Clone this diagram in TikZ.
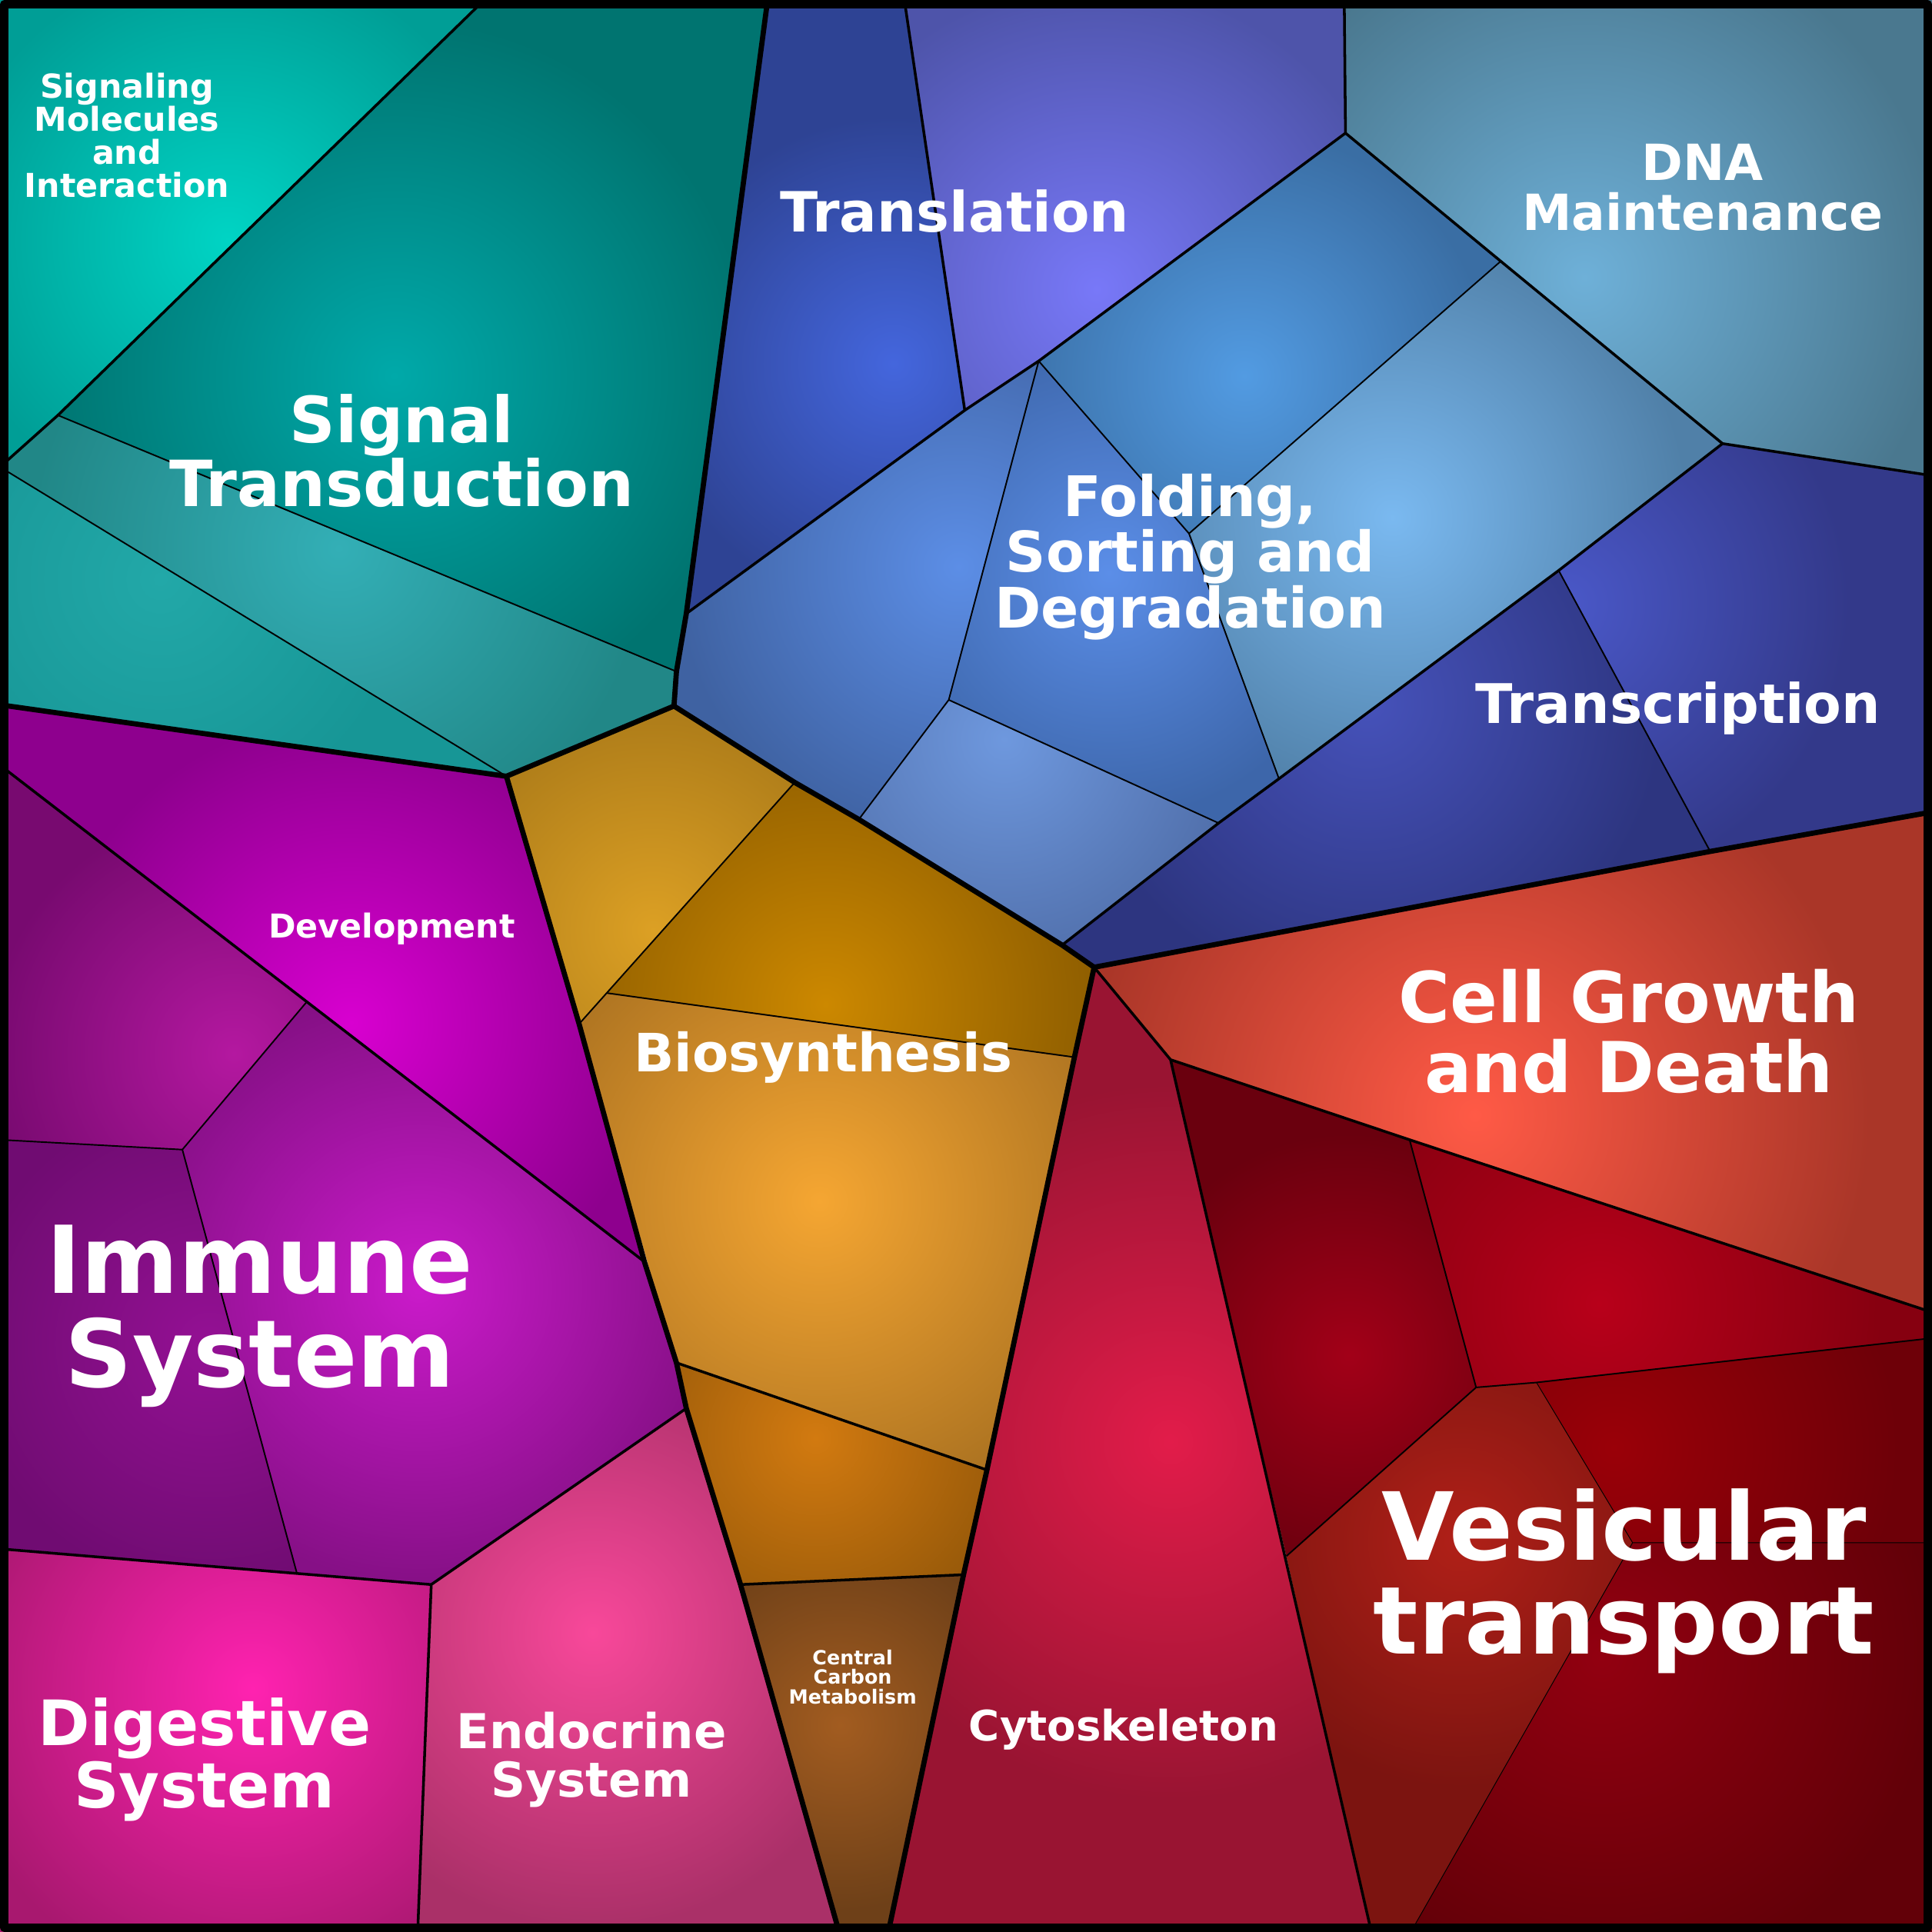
\documentclass[tikz,border=0pt]{standalone}
\usepackage{fontspec}
\setmainfont{DejaVu Sans}
\usepackage{tikz}

% one voronoi cell: path, glow centre, glow radius, inner and outer colour (HTML)
\newcommand\vcell[5]{%
  \definecolor{cellin}{HTML}{#4}\definecolor{cellout}{HTML}{#5}%
  \begin{scope}
    \clip #1 -- cycle;
    \fill[cellout] (0,0) rectangle (1568,1568);
    \shade[inner color=cellin, outer color=cellout] (#2) circle (#3);
  \end{scope}}
\newcommand\fz[1]{\bfseries\fontsize{#1}{#1}\selectfont}

\begin{document}
\begin{tikzpicture}[
  x=0.01cm, y=-0.01cm, line join=round,
  grp/.style={line width=0.042cm},
  sub/.style={line width=0.022cm},
  leaf/.style={line width=0.012cm},
  hair/.style={line width=0.006cm},
  lbl/.style={text=white, align=center, inner sep=0pt}
]
  \useasboundingbox (0,0) rectangle (1568,1568);

  % vertices
  \coordinate (t1) at (393,0);   \coordinate (t2) at (47,337);
  \coordinate (t3) at (0,379);   \coordinate (t4) at (549,545);
  \coordinate (g1) at (623,0);   \coordinate (g2) at (547,573);
  \coordinate (g3) at (411,630); \coordinate (g4) at (0,572);
  \coordinate (g5) at (888,785); \coordinate (g6) at (1568,659);
  \coordinate (g7) at (681,1568); \coordinate (g8) at (721,1568);
  \coordinate (b1) at (734,0);   \coordinate (b2) at (783,333);
  \coordinate (b3) at (557,498); \coordinate (b4) at (843,293);
  \coordinate (b5) at (1092,108); \coordinate (b6) at (1091,0);
  \coordinate (b7) at (1218,212); \coordinate (b8) at (1398,360);
  \coordinate (b9) at (1568,386); \coordinate (b10) at (965,433);
  \coordinate (b11) at (770,568); \coordinate (b12) at (697,665);
  \coordinate (b13) at (989,668); \coordinate (b14) at (1038,632);
  \coordinate (b15) at (1265,463); \coordinate (b16) at (1388,691);
  \coordinate (b17) at (862,767);
  \coordinate (m1) at (645,635); \coordinate (m2) at (470,831);
  \coordinate (m3) at (493,806); \coordinate (m4) at (872,858);
  \coordinate (m5) at (549,1106); \coordinate (m6) at (801,1193);
  \coordinate (m7) at (601,1286); \coordinate (m8) at (782,1278);
  \coordinate (o1) at (0,621);   \coordinate (o2) at (249,813);
  \coordinate (o3) at (523,1024); \coordinate (o4) at (148,933);
  \coordinate (o5) at (0,925);   \coordinate (o6) at (241,1277);
  \coordinate (o7) at (0,1257);  \coordinate (o8) at (350,1286);
  \coordinate (o9) at (557,1143); \coordinate (o10) at (339,1568);
  \coordinate (c1) at (950,860); \coordinate (c2) at (1144,925);
  \coordinate (c3) at (1568,1065); \coordinate (c4) at (1198,1126);
  \coordinate (c5) at (1247,1122); \coordinate (c6) at (1568,1086);
  \coordinate (c7) at (1044,1263); \coordinate (c8) at (1113,1568);
  \coordinate (c9) at (1325,1252); \coordinate (c10) at (1568,1252);
  \coordinate (c11) at (1145,1568);

  % environmental
  \vcell{(0,0) -- (t1) -- (t2) -- (t3)}{185,195}{2.3cm}{00D4C4}{009E96}
  \vcell{(t1) -- (g1) -- (b3) -- (t4) -- (t2)}{320,305}{2.9cm}{00A9A9}{007470}
  \vcell{(t3) -- (t2) -- (t4) -- (g2) -- (g3)}{275,445}{2.5cm}{33AFB6}{218787}
  \vcell{(t3) -- (g3) -- (g4)}{130,470}{2cm}{22A8A8}{179696}
  % genetic
  \vcell{(g1) -- (b1) -- (b2) -- (b3)}{725,295}{2cm}{4466DD}{2E4394}
  \vcell{(b1) -- (b6) -- (b5) -- (b4) -- (b2)}{890,235}{2.5cm}{7878F8}{4E54AA}
  \vcell{(b6) -- (1568,0) -- (b9) -- (b8) -- (b7) -- (b5)}{1286,225}{2.9cm}{6EB0D8}{4A788F}
  \vcell{(b4) -- (b5) -- (b7) -- (b10)}{1010,305}{2cm}{529BE2}{3A6EA4}
  \vcell{(b7) -- (b8) -- (b15) -- (b14) -- (b10)}{1130,420}{2.4cm}{7AB9F0}{5080A8}
  \vcell{(b4) -- (b10) -- (b14) -- (b13) -- (b11)}{900,465}{2cm}{5B8EE8}{3D66AA}
  \vcell{(b3) -- (b2) -- (b4) -- (b11) -- (b12) -- (m1) -- (g2)}{778,460}{2.3cm}{5C8EE6}{3F62A2}
  \vcell{(b11) -- (b13) -- (b17) -- (b12)}{815,600}{2cm}{6E98DE}{4F6DA8}
  \vcell{(b8) -- (b9) -- (g6) -- (b16) -- (b15)}{1270,490}{2.3cm}{4A58C8}{33398A}
  \vcell{(b15) -- (b16) -- (g5) -- (b17) -- (b13) -- (b14)}{1110,570}{2.4cm}{4652BA}{2D3580}
  % metabolism
  \vcell{(g3) -- (g2) -- (m1) -- (m3) -- (m2)}{530,755}{2cm}{DCA024}{A87818}
  \vcell{(m1) -- (b12) -- (b17) -- (g5) -- (m4) -- (m3)}{670,815}{2.3cm}{CC8800}{8C5C00}
  \vcell{(m2) -- (m3) -- (m4) -- (m6) -- (m5)}{665,975}{2.7cm}{F5A632}{A87020}
  \vcell{(m5) -- (m6) -- (m8) -- (m7) -- (o9)}{662,1167}{2cm}{D27A10}{8A5208}
  \vcell{(m7) -- (m8) -- (g8) -- (g7)}{682,1400}{1.5cm}{A25C20}{6E4018}
  % organismal
  \vcell{(g4) -- (g3) -- (m2) -- (o3) -- (o2) -- (o1)}{285,830}{2.5cm}{D800D0}{8E008E}
  \vcell{(o1) -- (o2) -- (o4) -- (o5)}{190,855}{2cm}{B418A0}{780A70}
  \vcell{(o2) -- (o3) -- (m5) -- (o9) -- (o8) -- (o6) -- (o4)}{340,1045}{2.4cm}{CA1ACA}{861086}
  \vcell{(o5) -- (o4) -- (o6) -- (o7)}{170,1090}{2cm}{941094}{700C72}
  \vcell{(o7) -- (o6) -- (o8) -- (o10) -- (0,1568)}{205,1370}{2.5cm}{FF22B0}{A8186F}
  \vcell{(o8) -- (o9) -- (m7) -- (g7) -- (o10)}{481,1325}{2.4cm}{F8489A}{AA3068}
  % cellular
  \vcell{(g5) -- (b16) -- (g6) -- (c3) -- (c2) -- (c1)}{1197,905}{3.2cm}{FF5A46}{AA3628}
  \vcell{(g5) -- (c1) -- (c8) -- (g8) -- (m8) -- (m6) -- (m4)}{950,1170}{2.9cm}{E21C4A}{991432}
  \vcell{(c1) -- (c2) -- (c4) -- (c7)}{1095,1100}{1.8cm}{A20018}{6A000E}
  \vcell{(c2) -- (c3) -- (c6) -- (c5) -- (c4)}{1298,1058}{2.3cm}{B8001A}{860010}
  \vcell{(c4) -- (c5) -- (c9) -- (c11) -- (c8) -- (c7)}{1185,1250}{2cm}{B02018}{7C1410}
  \vcell{(c5) -- (c6) -- (c10) -- (c9)}{1310,1175}{2.3cm}{9A0008}{6E0008}
  \vcell{(c9) -- (c10) -- (1568,1568) -- (c11)}{1300,1345}{2.7cm}{920010}{620008}

  % cell borders
  \draw[hair] (c5) -- (c9) -- (c10) (c9) -- (c11);
  \draw[leaf] (t2) -- (t4) (t3) -- (g3);
  \draw[leaf] (b7) -- (b10) (b4) -- (b10) -- (b14) (b4) -- (b11) -- (b12)
              (b11) -- (b13) (b15) -- (b16);
  \draw[leaf] (m1) -- (m2) (m3) -- (m4);
  \draw[leaf] (o2) -- (o4) -- (o5) (o4) -- (o6);
  \draw[leaf] (c2) -- (c4) -- (c7) (c4) -- (c5) -- (c6);
  \draw[sub] (t1) -- (t2) -- (t3);
  \draw[sub] (b1) -- (b2) (b3) -- (b2) -- (b4) -- (b5)
             (b6) -- (b5) -- (b7) -- (b8) -- (b9)
             (b8) -- (b15) -- (b14) -- (b13) -- (b17);
  \draw[sub] (m5) -- (m6) (m7) -- (m8);
  \draw[sub] (o1) -- (o2) -- (o3) (o7) -- (o6) -- (o8) -- (o9) (o8) -- (o10);
  \draw[sub] (g5) -- (c1) -- (c2) -- (c3) (c1) -- (c8);

  % group borders
  \draw[grp] (g1) -- (b3) -- (t4) -- (g2);
  \draw[grp] (g4) -- (g3) -- (g2) -- (m1) -- (b12) -- (b17) -- (g5) -- (b16) -- (g6);
  \draw[grp] (g3) -- (m2) -- (o3) -- (m5) -- (o9) -- (m7) -- (g7);
  \draw[grp] (g5) -- (m4) -- (m6) -- (m8) -- (g8);
  \draw[line width=0.07cm] (3.5,3.5) rectangle (1564.5,1564.5);

  % labels
  \node[lbl, font=\fz{7.6}] (sigmol) at (103,110) {Signaling\\Molecules\\and\\Interaction};
  \node[lbl, font=\fz{14.7}] (sigtr) at (326,366) {Signal\\Transduction};
  \node[lbl, font=\fz{12.8}, anchor=base] (transl) at (775,188) {Translation};
  \node[lbl, font=\fz{11.5}] (dnam) at (1382,152) {DNA\\Maintenance};
  \node[lbl, font=\fz{12.9}] (fold) at (966,452) {Folding,\\Sorting and\\Degradation};
  \node[lbl, font=\fz{12.6}, anchor=base] (transc) at (1362,587) {Transcription};
  \node[lbl, font=\fz{7.6}, anchor=base] (devel) at (318,761) {Development};
  \node[lbl, font=\fz{12.2}, anchor=base] (biosyn) at (668,870) {Biosynthesis};
  \node[lbl, font=\fz{16.2}] (cgd) at (1322,837) {Cell Growth\\and Death};
  \node[lbl, font=\fz{21.6}] (immune) at (211,1068) {Immune\\System};
  \node[lbl, font=\fz{21.7}] (vesic) at (1318,1283) {Vesicular\\transport};
  \node[lbl, font=\fz{14.45}] (digest) at (166,1428) {Digestive\\System};
  \node[lbl, font=\fz{11.1}] (endo) at (480,1428) {Endocrine\\System};
  \node[lbl, font=\fz{4.5}] (ccm) at (692,1361) {Central\\Carbon\\Metabolism};
  \node[lbl, font=\fz{9.7}, anchor=base] (cyto) at (912,1413) {Cytoskeleton};
\end{tikzpicture}
\end{document}
